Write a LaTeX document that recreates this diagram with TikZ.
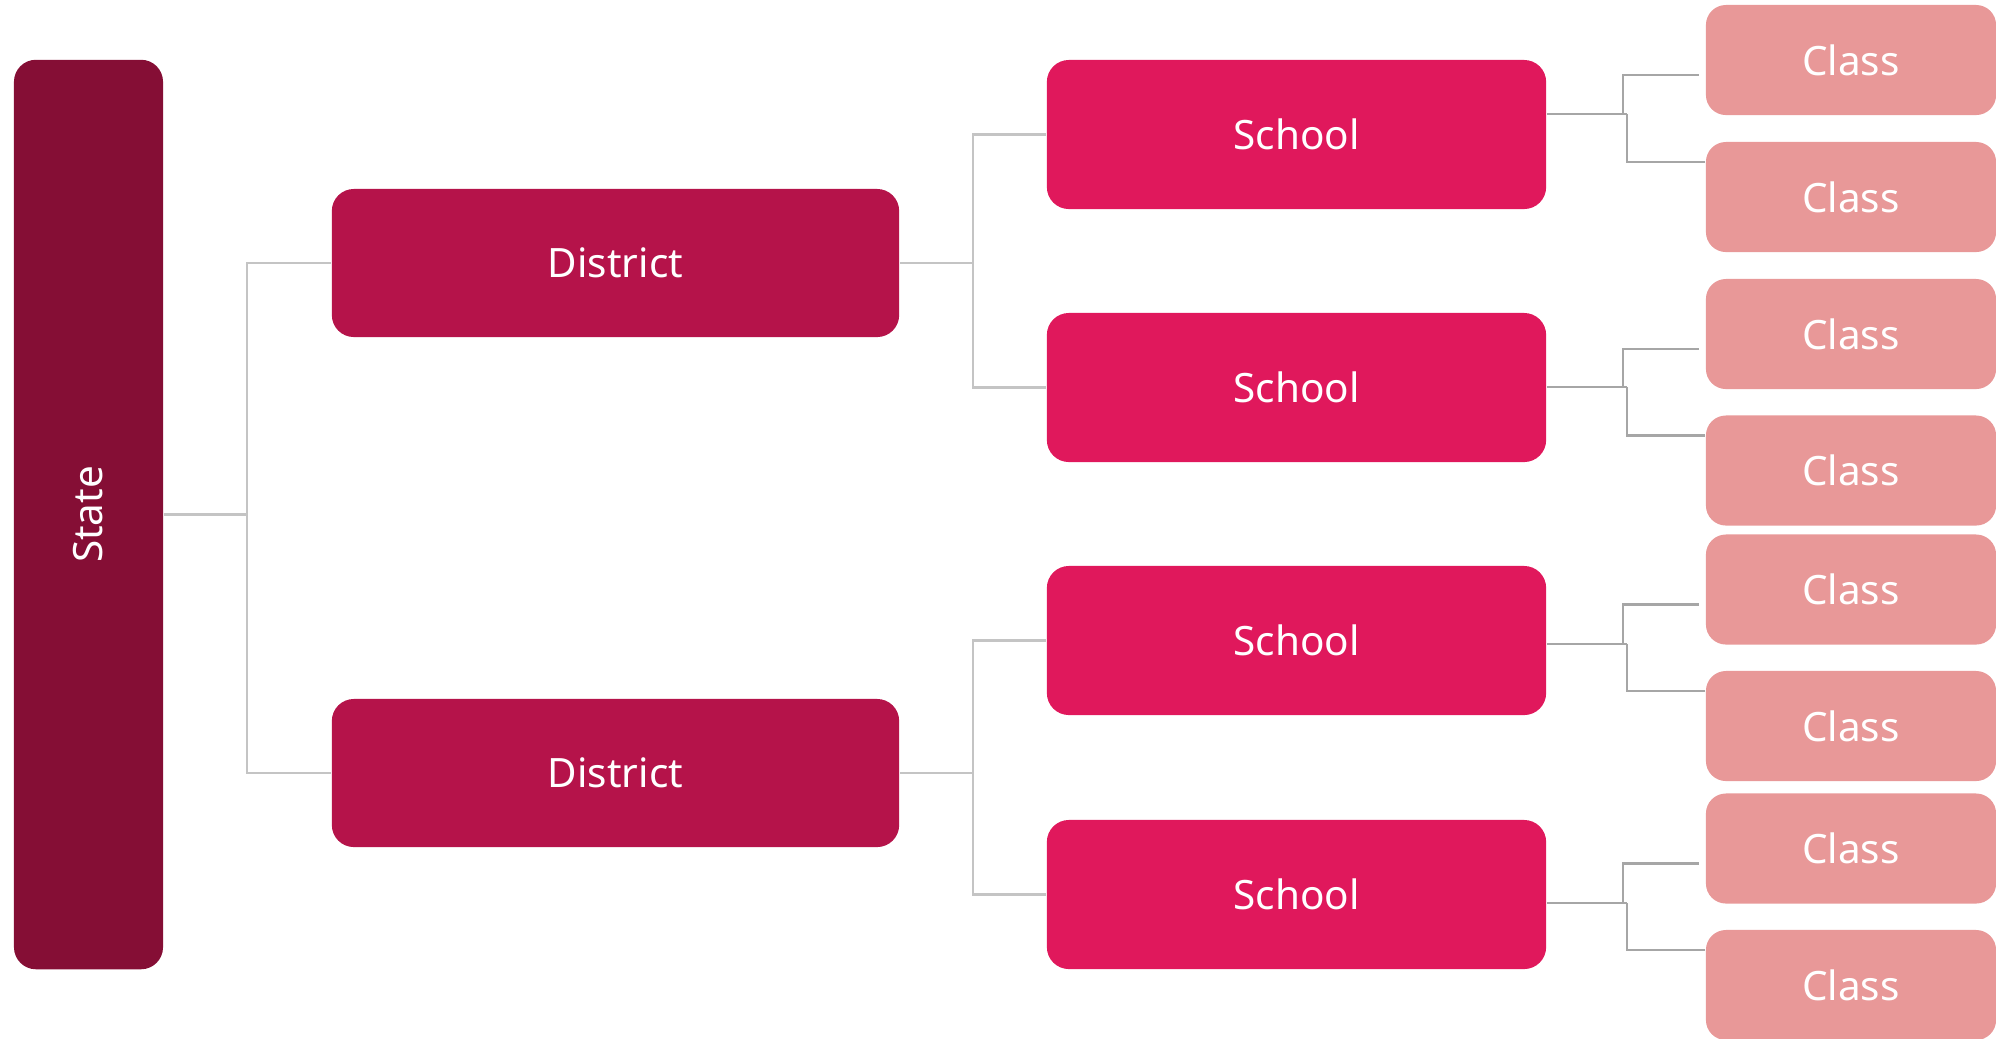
\documentclass[tikz,border=0pt]{standalone}
\usepackage{fontspec}
\setmainfont{Noto Sans}
\usepackage{graphicx}
\usetikzlibrary{calc}
\definecolor{statecol}{HTML}{850E35}
\definecolor{districtcol}{HTML}{B5134A}
\definecolor{schoolcol}{HTML}{E0185C}
\definecolor{classcol}{HTML}{E89898}
\definecolor{linelight}{HTML}{C4C4C4}
\definecolor{linedark}{HTML}{A6A6A6}
\begin{document}
\begin{tikzpicture}[x=0.01cm,y=-0.01cm,
  box/.style={rounded corners=0.22cm,text=white,inner sep=0pt,font=\fontsize{11.5}{13}\selectfont},
  statebox/.style={box,fill=statecol,minimum width=1.49cm,minimum height=9.09cm},
  districtbox/.style={box,fill=districtcol,minimum width=5.67cm,minimum height=1.48cm},
  schoolbox/.style={box,fill=schoolcol,minimum width=4.99cm,minimum height=1.49cm},
  classbox/.style={box,fill=classcol,rounded corners=0.2cm,minimum width=2.90cm,minimum height=1.10cm},
  conn/.style={draw=linelight,line width=0.6pt},
  cconn/.style={draw=linedark,line width=0.8pt}]
\useasboundingbox (0,0) rectangle (1996,1038);
\clip (0,0) rectangle (1996,1038);
\node[statebox] (state) at (88.5,514.5) {\rotatebox{90}{State}};
\node[districtbox] (d1) at (615.5,263) {District};
\node[districtbox] (d2) at (615.5,773) {District};
\node[schoolbox] (s1) at (1296.5,134.5) {School};
\node[schoolbox] (s2) at (1296.5,387.5) {School};
\node[schoolbox] (s3) at (1296.5,640.5) {School};
\node[schoolbox] (s4) at (1296.5,894.5) {School};
\node[classbox] (c1) at (1851,60) {Class};
\node[classbox] (c2) at (1851,197) {Class};
\node[classbox] (c3) at (1851,334) {Class};
\node[classbox] (c4) at (1851,470.5) {Class};
\node[classbox] (c5) at (1851,589.5) {Class};
\node[classbox] (c6) at (1851,726) {Class};
\node[classbox] (c7) at (1851,848.5) {Class};
\node[classbox] (c8) at (1851,985) {Class};
\coordinate (sj) at (247,514.5);
\coordinate (dj1) at (973,263);
\coordinate (dj2) at (973,773);
\draw[conn] (state.east) -- (sj);
\draw[conn] (sj) |- (d1.west);
\draw[conn] (sj) |- (d2.west);
\draw[conn] (d1.east) -- (dj1);
\draw[conn] (dj1) |- (s1.west);
\draw[conn] (dj1) |- (s2.west);
\draw[conn] (d2.east) -- (dj2);
\draw[conn] (dj2) |- (s3.west);
\draw[conn] (dj2) |- (s4.west);
\foreach \s/\y/\a/\b in {s1/114/c1/c2,s2/387/c3/c4,s3/644/c5/c6,s4/903/c7/c8}{
  \coordinate (sj\s) at (1623,\y);
  \draw[cconn] (\s.east |- sj\s) -- (1627,\y);
  \draw[cconn] (sj\s) |- ($(\a.west)+(-6,15)$);
  \draw[cconn] (1627,\y) |- ($(\b.west)+(0,-35)$);
}
\end{tikzpicture}
\end{document}
